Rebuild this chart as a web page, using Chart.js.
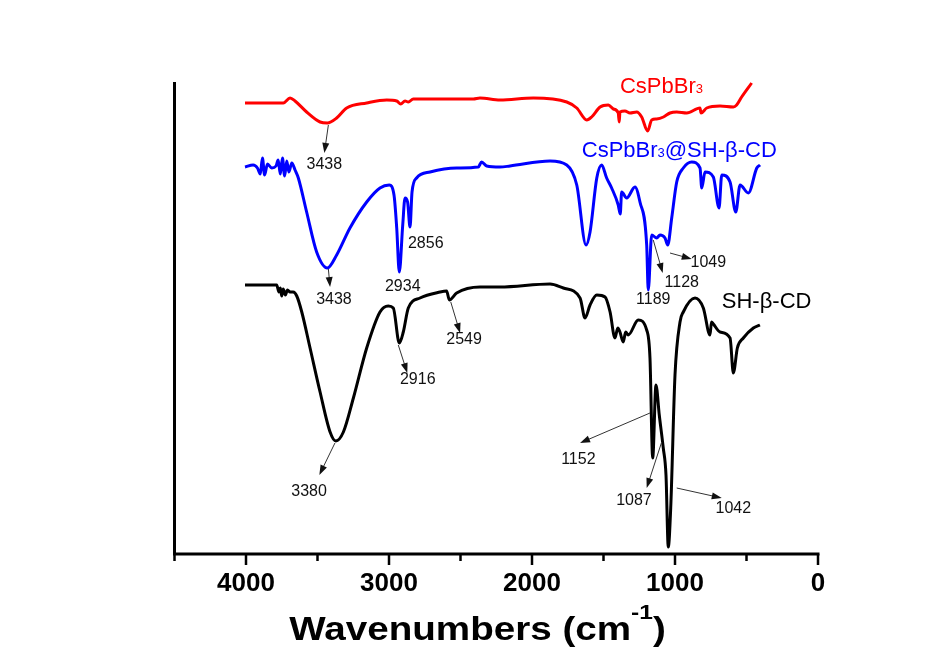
<!DOCTYPE html>
<html>
<head>
<meta charset="utf-8">
<script src="https://cdn.jsdelivr.net/npm/chart.js@4.4.1/dist/chart.umd.min.js"></script>
<style>
  html, body { margin: 0; padding: 0; background: #fff; }
  #wrap { width: 931px; height: 654px; position: relative; }
</style>
</head>
<body>
<div id="wrap"><canvas id="ftir"></canvas></div>
<script>
// FTIR spectra, x = wavenumber (cm-1), y = transmittance (arb. units, curves stacked)
const redWn = [4007, 3739, 3692, 3657, 3576, 3482, 3431, 3366, 3296, 3156, 3016, 2946, 2918, 2888, 2865, 2830, 2643, 2410, 2364, 2224, 1991, 1757, 1687, 1617, 1583, 1524, 1466, 1431, 1397, 1390, 1385, 1350, 1315, 1268, 1233, 1191, 1163, 1128, 1081, 1035, 988, 918, 825, 818, 778, 685, 592, 569, 534, 464];
const redT = [451, 451, 456, 453, 442, 432, 431, 436, 446, 451, 454, 453, 450, 453, 452, 455, 455, 455, 456, 454, 456, 452, 446, 434, 437, 447, 449, 445, 441, 432, 442, 443, 441, 442, 437, 423, 434, 435, 437, 441, 442, 441, 446, 441, 446, 448, 447, 449, 457, 471];

const blueWn = [4007, 3950, 3920, 3900, 3885, 3870, 3850, 3820, 3790, 3775, 3760, 3745, 3730, 3715, 3700, 3680, 3657, 3634, 3576, 3506, 3431, 3366, 3273, 3156, 3063, 2998, 2965, 2946, 2928, 2904, 2888, 2870, 2853, 2839, 2807, 2713, 2527, 2376, 2352, 2317, 2224, 2154, 1874, 1757, 1687, 1622, 1594, 1547, 1513, 1478, 1443, 1397, 1383, 1373, 1338, 1280, 1245, 1198, 1187, 1163, 1128, 1105, 1070, 1051, 1023, 988, 942, 883, 825, 813, 790, 732, 692, 673, 615, 575, 545, 487, 428, 405];
const blueT = [387, 389, 386, 380, 396, 379, 390, 386, 388, 394, 380, 396, 378, 393, 382, 391, 384, 376, 342, 302, 286, 299, 326, 352, 366, 369, 359, 326, 282, 329, 356, 352, 327, 362, 376, 382, 386, 387, 392, 388, 387, 388, 393, 389, 369, 309, 322, 376, 389, 376, 366, 349, 340, 362, 356, 367, 352, 309, 264, 319, 316, 319, 316, 309, 336, 372, 386, 392, 386, 366, 382, 377, 346, 379, 372, 342, 369, 361, 386, 389];

const blackWn = [4007, 3900, 3785, 3770, 3760, 3750, 3740, 3725, 3710, 3692, 3670, 3645, 3610, 3552, 3482, 3412, 3372, 3319, 3249, 3156, 3063, 3005, 2970, 2928, 2900, 2865, 2783, 2643, 2597, 2578, 2527, 2364, 2224, 1874, 1781, 1664, 1629, 1594, 1547, 1489, 1454, 1420, 1400, 1385, 1362, 1345, 1327, 1257, 1198, 1175, 1156, 1133, 1110, 1082, 1063, 1047, 1030, 1000, 965, 942, 860, 802, 755, 745, 732, 685, 615, 592, 564, 522, 452, 406];
const blackT = [269, 269, 269, 262, 266, 258, 265, 259, 264, 262, 262, 258, 242, 206, 162, 122, 113, 122, 156, 206, 242, 248, 246, 211, 222, 246, 256, 262, 263, 254, 261, 267, 267, 270, 266, 256, 236, 249, 259, 257, 242, 216, 226, 222, 212, 222, 219, 234, 224, 196, 96, 169, 139, 106, 79, 7, 46, 179, 232, 242, 256, 246, 219, 232, 230, 222, 216, 181, 206, 216, 226, 229];

const xTicks = [0, 1000, 2000, 3000, 4000];

// peak labels: text, centre (wn, T)
const peakText = ['3438', '3438', '2934', '2856', '3380', '2916', '2549', '1189', '1128', '1049', '1152', '1087', '1042'];
const peakWn = [3452, 3385, 2904, 2743, 3559, 2799, 2475, 1152, 953, 767, 1676, 1287, 592];
const peakT = [389, 254, 267, 310, 62, 174, 214, 254, 271, 291, 94, 53, 45];

// arrows: from (wn, T) to (wn, T)
const arrows = [
  [3424, 429, 3452, 401],
  [3424, 285, 3412, 267],
  [3378, 111, 3487, 79],
  [2935, 209, 2872, 181],
  [2568, 252, 2503, 221],
  [1152, 314, 1086, 281],
  [1035, 301, 883, 295],
  [1175, 141, 1664, 111],
  [1093, 112, 1198, 66],
  [988, 66, 673, 56]
];

const FAMILY = '"Liberation Sans", Arial, Helvetica, sans-serif';

function pts(xs, ys) {
  return xs.map((x, i) => ({ x: x, y: ys[i] }));
}

function drawParts(ctx, parts, x, y) {
  // parts: [text, size, raise, weight]
  let cx = x;
  parts.forEach(p => {
    ctx.font = p[3] + ' ' + p[1] + 'px ' + FAMILY;
    ctx.fillText(p[0], cx, y - p[2]);
    cx += ctx.measureText(p[0]).width;
  });
  return cx - x;
}

function partsWidth(ctx, parts) {
  let w = 0;
  parts.forEach(p => {
    ctx.font = p[3] + ' ' + p[1] + 'px ' + FAMILY;
    w += ctx.measureText(p[0]).width;
  });
  return w;
}

const decor = {
  id: 'decor',
  afterDatasetsDraw(chart) {
    const ctx = chart.ctx;
    const xs = chart.scales.x, ys = chart.scales.y;
    const { left, right, top, bottom } = chart.chartArea;
    ctx.save();

    // axes
    ctx.strokeStyle = '#000';
    ctx.lineWidth = 3;
    ctx.beginPath();
    ctx.moveTo(left, top);
    ctx.lineTo(left, bottom);
    ctx.lineTo(right + 1.5, bottom);
    ctx.stroke();

    // ticks (major every 1000, minor every 500)
    ctx.lineWidth = 2.5;
    for (let v = 0; v <= 4500; v += 500) {
      const px = xs.getPixelForValue(v);
      const len = xTicks.includes(v) ? 11 : 7;
      ctx.beginPath();
      ctx.moveTo(px, bottom);
      ctx.lineTo(px, bottom + len);
      ctx.stroke();
    }

    // arrows
    ctx.strokeStyle = '#333';
    ctx.fillStyle = '#111';
    ctx.lineWidth = 1;
    arrows.forEach(a => {
      const x1 = xs.getPixelForValue(a[0]), y1 = ys.getPixelForValue(a[1]);
      const x2 = xs.getPixelForValue(a[2]), y2 = ys.getPixelForValue(a[3]);
      const ang = Math.atan2(y2 - y1, x2 - x1);
      ctx.beginPath();
      ctx.moveTo(x1, y1);
      ctx.lineTo(x2 - 6 * Math.cos(ang), y2 - 6 * Math.sin(ang));
      ctx.stroke();
      ctx.beginPath();
      ctx.moveTo(x2, y2);
      ctx.lineTo(x2 - 10 * Math.cos(ang) + 3.5 * Math.sin(ang), y2 - 10 * Math.sin(ang) - 3.5 * Math.cos(ang));
      ctx.lineTo(x2 - 10 * Math.cos(ang) - 3.5 * Math.sin(ang), y2 - 10 * Math.sin(ang) + 3.5 * Math.cos(ang));
      ctx.closePath();
      ctx.fill();
    });

    // peak labels
    ctx.font = '16px ' + FAMILY;
    ctx.textAlign = 'center';
    ctx.textBaseline = 'middle';
    ctx.fillStyle = '#111';
    peakText.forEach((t, i) => {
      ctx.fillText(t, xs.getPixelForValue(peakWn[i]), ys.getPixelForValue(peakT[i]));
    });

    // series names
    ctx.textAlign = 'left';
    ctx.textBaseline = 'alphabetic';
    ctx.fillStyle = '#f00';
    drawParts(ctx, [['CsPbBr', 22, 0, ''], ['3', 13, 0, '']], xs.getPixelForValue(1385), ys.getPixelForValue(461));
    ctx.fillStyle = '#00f';
    drawParts(ctx, [['CsPbBr', 22, 0, ''], ['3', 13, 0, ''], ['@SH-\u03b2-CD', 22, 0, '']], xs.getPixelForValue(1652), ys.getPixelForValue(397));
    ctx.fillStyle = '#000';
    drawParts(ctx, [['SH-\u03b2-CD', 22, 0, '']], xs.getPixelForValue(673), ys.getPixelForValue(246));

    // axis title with superscript
    const title = [['Wavenumbers (cm', 33, 0, 'bold'], ['-1', 21, 21, 'bold'], [')', 33, 0, 'bold']];
    const w = partsWidth(ctx, title);
    ctx.fillStyle = '#000';
    ctx.translate(477.5, 640);
    ctx.scale(1.17, 1);
    drawParts(ctx, title, -w / 2, 0);

    ctx.restore();
  }
};

new Chart(document.getElementById('ftir'), {
  type: 'line',
  data: {
    datasets: [
      { label: 'CsPbBr3', data: pts(redWn, redT), borderColor: '#f00' },
      { label: 'CsPbBr3@SH-β-CD', data: pts(blueWn, blueT), borderColor: '#00f' },
      { label: 'SH-β-CD', data: pts(blackWn, blackT), borderColor: '#000' }
    ]
  },
  options: {
    responsive: true,
    maintainAspectRatio: false,
    animation: false,
    layout: { padding: { left: 174.5, right: 113, top: 82, bottom: 0 } },
    plugins: { legend: { display: false }, tooltip: { enabled: false } },
    elements: {
      point: { radius: 0 },
      line: { borderWidth: 3, cubicInterpolationMode: 'monotone', borderJoinStyle: 'round', fill: false }
    },
    scales: {
      x: {
        type: 'linear',
        reverse: true,
        min: 0,
        max: 4500,
        grid: { display: false, drawTicks: false },
        border: { display: false },
        afterBuildTicks: s => { s.ticks = xTicks.map(v => ({ value: v })); },
        ticks: {
          autoSkip: false,
          maxRotation: 0,
          padding: 14,
          color: '#000',
          font: { family: FAMILY, size: 26, weight: 'bold' },
          callback: v => String(v)
        },
        afterFit: s => { s.height = 100; }
      },
      y: { display: false, min: 0, max: 472 }
    }
  },
  plugins: [decor]
});
</script>
</body>
</html>
